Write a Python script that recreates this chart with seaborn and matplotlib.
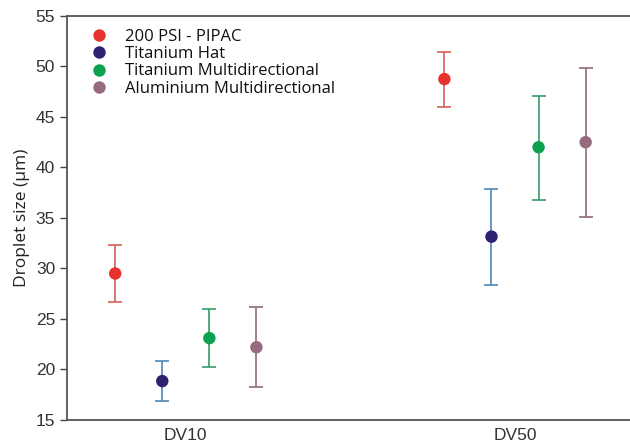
import numpy as np
import pandas as pd
import matplotlib
matplotlib.use("Agg")
import matplotlib.pyplot as plt
import seaborn as sns

categories = ["DV10", "DV50"]
series = ["200 PSI - PIPAC", "Titanium Hat", "Titanium Multidirectional", "Aluminium Multidirectional"]

# mean droplet size per series, for DV10 then DV50
means = {
    "200 PSI - PIPAC": [29.5, 48.75],
    "Titanium Hat": [18.85, 33.15],
    "Titanium Multidirectional": [23.1, 42.0],
    "Aluminium Multidirectional": [22.2, 42.5],
}
lower = {
    "200 PSI - PIPAC": [26.7, 46.0],
    "Titanium Hat": [16.9, 28.4],
    "Titanium Multidirectional": [20.25, 36.8],
    "Aluminium Multidirectional": [18.25, 35.1],
}
upper = {
    "200 PSI - PIPAC": [32.35, 51.45],
    "Titanium Hat": [20.8, 37.9],
    "Titanium Multidirectional": [25.95, 47.1],
    "Aluminium Multidirectional": [26.15, 49.85],
}

marker_colors = ["#e8312c", "#2f2170", "#0aa24f", "#966b80"]
bar_colors = ["#d65f5a", "#4f86b4", "#3a9a66", "#8e6a7c"]

rows = []
for si, s in enumerate(series):
    for ci, c in enumerate(categories):
        rows.append({"series": s, "cat": c, "x": ci + (si - 1.5) * 0.143,
                     "y": means[s][ci], "lo": lower[s][ci], "hi": upper[s][ci]})
df = pd.DataFrame(rows)

sns.set_style("white")
plt.rcParams["font.family"] = ["Liberation Sans", "DejaVu Sans"]

fig = plt.figure(figsize=(6.3, 4.43), dpi=100)
ax = fig.add_axes([0.1063, 0.052, 0.95, 0.912])

for si, s in enumerate(series):
    d = df[df["series"] == s]
    ax.errorbar(d["x"], d["y"], yerr=[d["y"] - d["lo"], d["hi"] - d["y"]],
                fmt="none", ecolor=bar_colors[si], elinewidth=1.2,
                capsize=5, capthick=1.2, zorder=2)

sns.scatterplot(data=df, x="x", y="y", hue="series", hue_order=series,
                palette=marker_colors, s=80, edgecolor="none", ax=ax, zorder=3)

ax.set_xlim(-0.361, 1.457)
ax.set_ylim(15, 55)
ax.set_yticks(np.arange(15, 56, 5))
ax.set_xticks([0, 1])
ax.set_xticklabels(categories, fontsize=12.5, color="#333333")
ax.tick_params(axis="x", length=0, pad=6)
ax.tick_params(axis="y", length=5, width=1, direction="out", labelsize=12.5,
               labelcolor="#333333", left=True, color="#444444")
ax.set_xlabel("")
ax.set_ylabel("Droplet size (µm)", fontsize=12.5, color="#222222",
              family=["Open Sans", "DejaVu Sans"], labelpad=4)

for side in ["left", "bottom", "top"]:
    ax.spines[side].set_color("#555555")
    ax.spines[side].set_linewidth(1.3)
ax.spines["right"].set_visible(False)

leg = ax.legend(loc="upper left", frameon=False,
                prop={"family": ["Open Sans", "DejaVu Sans"], "size": 12},
                handletextpad=0.75, labelspacing=0.08, borderaxespad=0.0,
                handlelength=1.6, bbox_to_anchor=(0.02, 0.985))
for t in leg.get_texts():
    t.set_color("#111111")

fig.savefig("out.png", dpi=100)
